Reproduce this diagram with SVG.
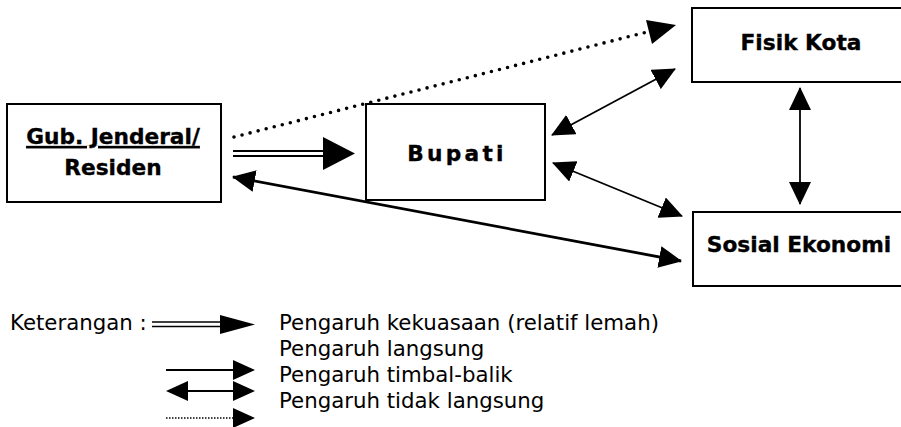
<svg xmlns="http://www.w3.org/2000/svg" width="901" height="427" viewBox="0 0 901 427">
<style>
.box{fill:#fff;stroke:#000;stroke-width:2}
.lbl{font-family:"DejaVu Sans","Verdana",sans-serif;font-weight:bold;font-size:21.7px;fill:#000;stroke:#000;stroke-width:0.35;text-anchor:middle}
.leg{font-family:"DejaVu Sans","Verdana",sans-serif;font-size:21.3px;fill:#000}
.ln{stroke:#000;fill:none}
.hd{fill:#000}
</style>
<defs>
<marker id="ah" markerUnits="userSpaceOnUse" markerWidth="23" markerHeight="22" viewBox="0 0 23 22" refX="22" refY="11" orient="auto-start-reverse">
<path d="M0,0 L23,11 L0,22 z" fill="#000"/>
</marker>
</defs>

<g id="gub">
<rect class="box" x="7" y="104" width="214" height="98" stroke-width="1.8"/>
<text class="lbl" x="113" y="144" font-size="23" text-decoration="underline">Gub. Jenderal/</text>
<text class="lbl" x="113" y="175" font-size="23">Residen</text>
</g>

<g id="bupati">
<rect class="box" x="366" y="104" width="179" height="96" stroke-width="4"/>
<text class="lbl" x="457" y="161" letter-spacing="3.3">Bupati</text>
</g>

<g id="fisik-kota">
<rect class="box" x="692" y="8" width="215" height="74"/>
<text class="lbl" x="801" y="50">Fisik Kota</text>
</g>

<g id="sosial-ekonomi">
<rect class="box" x="693" y="212" width="215" height="74"/>
<text class="lbl" x="799" y="252">Sosial Ekonomi</text>
</g>

<g id="connectors">
<!-- Gub -> Bupati (double line) -->
<line class="ln" x1="233" y1="151" x2="326" y2="151" stroke-width="2"/>
<line class="ln" x1="233" y1="156" x2="326" y2="156" stroke-width="2"/>
<polygon class="hd" points="323,137 355,153.5 323,170"/>
<!-- Gub -> Fisik Kota (dotted) -->
<line class="ln" x1="234" y1="137" x2="647" y2="32" stroke-width="3.6" stroke-linecap="round" stroke-dasharray="0 8.3"/>
<polygon class="hd" points="646,20 676,25 652,44"/>
<!-- Bupati <-> Fisik Kota -->
<line class="ln" x1="552" y1="135" x2="675" y2="69" stroke-width="1.8" marker-start="url(#ah)" marker-end="url(#ah)"/>
<!-- Bupati <-> Sosial Ekonomi -->
<line class="ln" x1="553" y1="163" x2="682" y2="216" stroke-width="1.8" marker-start="url(#ah)" marker-end="url(#ah)"/>
<!-- Fisik Kota <-> Sosial Ekonomi -->
<line class="ln" x1="800" y1="88" x2="800" y2="204" stroke-width="1.8" marker-start="url(#ah)" marker-end="url(#ah)"/>
<!-- Gub <-> Sosial Ekonomi -->
<line class="ln" x1="233" y1="177" x2="681" y2="261" stroke-width="2.8" marker-start="url(#ah)" marker-end="url(#ah)"/>
</g>

<g id="legend">
<text class="leg" x="10" y="330">Keterangan :</text>
<line class="ln" x1="152" y1="322" x2="222" y2="322" stroke-width="1.6"/>
<line class="ln" x1="152" y1="326.5" x2="222" y2="326.5" stroke-width="1.6"/>
<polygon class="hd" points="220,315 255,324.5 220,334"/>
<line class="ln" x1="166" y1="370" x2="236" y2="370" stroke-width="2"/>
<polygon class="hd" points="233,360 255,370 233,380"/>
<line class="ln" x1="185" y1="391" x2="236" y2="391" stroke-width="2"/>
<polygon class="hd" points="188,381 166,391 188,401"/>
<polygon class="hd" points="233,381 255,391 233,401"/>
<line class="ln" x1="166" y1="418" x2="233" y2="418" stroke-width="1.5" stroke-dasharray="1.5 1.5"/>
<polygon class="hd" points="233,408 255,418 233,428"/>
<text class="leg" x="279" y="330">Pengaruh kekuasaan (relatif lemah)</text>
<text class="leg" x="279" y="356">Pengaruh langsung</text>
<text class="leg" x="279" y="382">Pengaruh timbal-balik</text>
<text class="leg" x="279" y="408">Pengaruh tidak langsung</text>
</g>
</svg>
